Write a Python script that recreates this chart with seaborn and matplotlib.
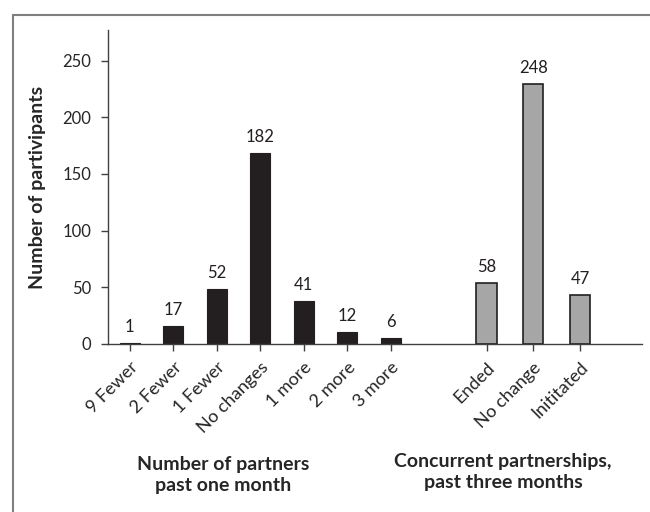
import matplotlib
matplotlib.use("Agg")
import matplotlib.pyplot as plt
import pandas as pd
import seaborn as sns
from matplotlib.lines import Line2D

# bar heights as drawn in the figure, and the counts printed above them
partner_cats = ["9 Fewer", "2 Fewer", "1 Fewer", "No changes", "1 more", "2 more", "3 more"]
partner_heights = [1.3, 16, 48.3, 168.5, 38, 10.9, 5]
partner_labels = ["1", "17", "52", "182", "41", "12", "6"]

concurrent_cats = ["Ended", "No change", "Inititated"]
concurrent_heights = [53.6, 229.4, 43.3]
concurrent_labels = ["58", "248", "47"]

y_ticks = [0, 50, 100, 150, 200, 250]


def make_plot():
    sns.set_style("white")
    plt.rcParams["font.family"] = ["Lato", "DejaVu Sans"]

    fig = plt.figure(figsize=(6.5, 5.12), dpi=100)
    ax = fig.add_axes([108 / 650, 1 - 344 / 512, (642 - 108) / 650, (344 - 30) / 512])

    pos_left = list(range(len(partner_cats)))
    pos_right = [8.2, 9.27, 10.35]

    df_left = pd.DataFrame({"x": pos_left, "y": partner_heights})
    df_right = pd.DataFrame({"x": pos_right, "y": concurrent_heights})

    sns.barplot(data=df_left, x="x", y="y", native_scale=True, color="#231f20",
                saturation=1, width=0.46, edgecolor="#231f20", linewidth=0.8, ax=ax)
    sns.barplot(data=df_right, x="x", y="y", native_scale=True, color="#a6a6a6",
                saturation=1, width=0.44, edgecolor="#231f20", linewidth=1.2, ax=ax)

    for x, h, lab in zip(pos_left + pos_right,
                         partner_heights + concurrent_heights,
                         partner_labels + concurrent_labels):
        ax.text(x, h + 7, lab, ha="center", va="bottom", fontsize=12, color="#231f20")

    ax.set_xlim(-0.5, 11.77)
    ax.set_ylim(0, 277)
    ax.set_yticks(y_ticks)
    ax.set_xticks(pos_left + pos_right)
    ax.set_xticklabels(partner_cats + concurrent_cats, rotation=45, ha="right",
                       rotation_mode="anchor", fontsize=13)
    ax.tick_params(axis="y", labelsize=12, direction="out", length=5, width=1,
                   color="#404040", left=True, pad=7)
    ax.tick_params(axis="x", direction="out", length=5, width=1, color="#404040",
                   bottom=True, pad=6)
    ax.set_xlabel("")
    ax.set_ylabel("Number of partivipants", fontsize=14, fontweight="bold", labelpad=12)

    sns.despine(ax=ax)
    for side in ["left", "bottom"]:
        ax.spines[side].set_color("#404040")
        ax.spines[side].set_linewidth(1)

    fig.text(223 / 650, 1 - 475 / 512, "Number of partners\npast one month",
             ha="center", va="center", fontsize=14, fontweight="bold", linespacing=1.3)
    fig.text(503 / 650, 1 - 472 / 512, "Concurrent partnerships,\npast three months",
             ha="center", va="center", fontsize=14, fontweight="bold", linespacing=1.3)

    # outer frame (left and top edges visible)
    fig.add_artist(Line2D([13 / 650, 13 / 650], [0, 1 - 15 / 512],
                          transform=fig.transFigure, color="#7f7f7f", lw=1.5))
    fig.add_artist(Line2D([13 / 650, 1], [1 - 15 / 512, 1 - 15 / 512],
                          transform=fig.transFigure, color="#7f7f7f", lw=1.5))

    fig.savefig("out.png", dpi=100)


if __name__ == "__main__":
    make_plot()
